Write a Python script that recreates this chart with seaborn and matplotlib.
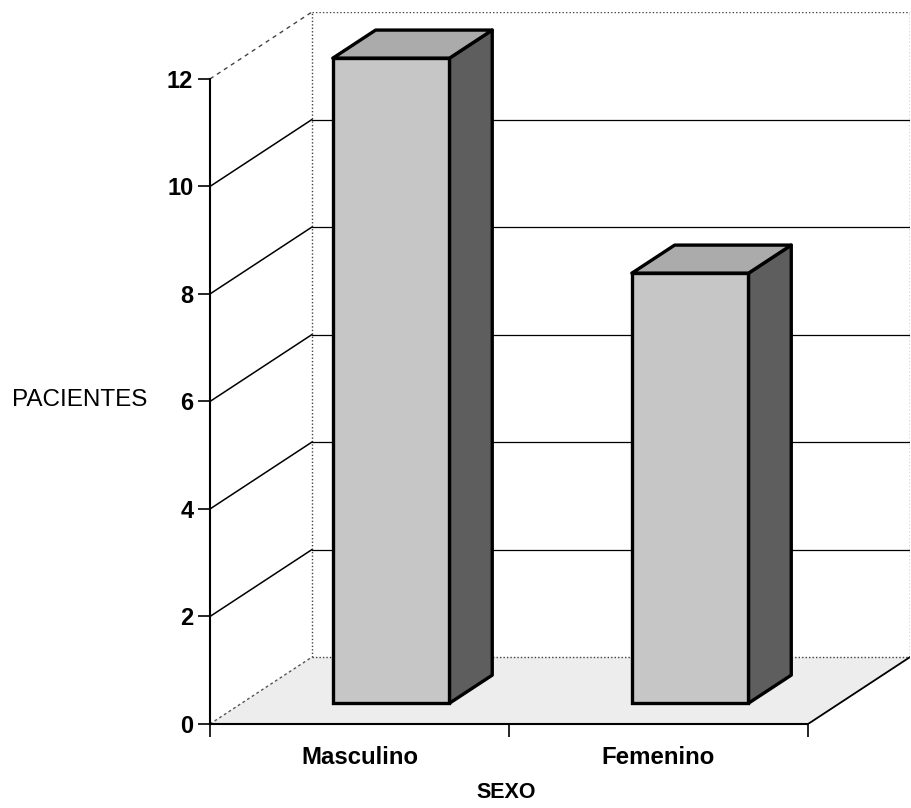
import matplotlib
matplotlib.use("Agg")
import matplotlib.pyplot as plt
from matplotlib.patches import Polygon
import seaborn as sns
import pandas as pd

# Datos
categorias = ["Masculino", "Femenino"]
pacientes = [12, 8]
marcas_y = [0, 2, 4, 6, 8, 10, 12]

sns.set_theme(style="ticks")
plt.rcParams["font.family"] = ["Liberation Sans", "DejaVu Sans"]
plt.rcParams["text.color"] = "black"
plt.rcParams["axes.labelcolor"] = "black"
plt.rcParams["xtick.color"] = "black"
plt.rcParams["ytick.color"] = "black"

# Pseudo-3D geometry (in data units)
DX, DY = 0.341, 1.245          # full depth offset of the box
F0, F1 = 0.31, 0.73            # front / back depth fraction of the bars
ANCHO = 0.39

C_FRENTE = "#c6c6c6"
C_TAPA = "#ababab"
C_LADO = "#5e5e5e"
C_PISO = "#ededed"

fig = plt.figure(figsize=(9.12, 8.08), dpi=100)
ax = fig.add_axes([210 / 912, (808 - 724) / 808, 700 / 912, 712 / 808])

df = pd.DataFrame({"SEXO": categorias, "PACIENTES": pacientes})
sns.barplot(data=df, x="SEXO", y="PACIENTES", ax=ax, color=C_FRENTE,
            saturation=1, width=ANCHO, edgecolor="black", linewidth=2.4,
            zorder=4)

x_min, x_max = -0.5, len(categorias) - 0.5
y_top = marcas_y[-1]

# floor
piso = Polygon([(x_min, 0), (x_max, 0), (x_max + DX, DY), (x_min + DX, DY)],
               closed=True, facecolor=C_PISO, edgecolor="none", zorder=1)
ax.add_patch(piso)
ax.plot([x_max, x_max + DX], [0, DY], color="black", lw=1.3, zorder=2)
ax.plot([x_min, x_min + DX], [0, DY], color="#555555", lw=1.0,
        ls=(0, (2, 2)), zorder=2)

# back wall frame (dotted)
bx0, bx1 = x_min + DX, x_max + DX
punteado = dict(color="#444444", lw=1.0, ls=(0, (1, 1.5)), zorder=1.5)
ax.plot([bx0, bx0], [DY, y_top + DY], **punteado)
ax.plot([bx1, bx1], [DY, y_top + DY], **punteado)
ax.plot([bx0, bx1], [DY, DY], **punteado)
ax.plot([bx0, bx1], [y_top + DY, y_top + DY], **punteado)
ax.plot([x_min, bx0], [y_top, y_top + DY], color="#444444", lw=1.0,
        ls=(0, (3, 3)), zorder=1.5)

# gridlines on the side and back walls
for t in marcas_y[1:-1]:
    ax.plot([x_min, bx0], [t, t + DY], color="black", lw=1.1, zorder=1.5)
    ax.plot([bx0, bx1], [t + DY, t + DY], color="black", lw=0.9, zorder=1.5)

# move the front faces into depth and add top / side faces
ox, oy = F0 * DX, F0 * DY
sx, sy = (F1 - F0) * DX, (F1 - F0) * DY
for p in list(ax.patches):
    if p is piso:
        continue
    p.set_x(p.get_x() + ox)
    p.set_y(p.get_y() + oy)
    x0 = p.get_x()
    x1 = x0 + p.get_width()
    y0 = p.get_y()
    y1 = y0 + p.get_height()
    lado = Polygon([(x1, y0), (x1 + sx, y0 + sy), (x1 + sx, y1 + sy), (x1, y1)],
                   closed=True, facecolor=C_LADO, edgecolor="black",
                   lw=2.4, joinstyle="round", zorder=3)
    tapa = Polygon([(x0, y1), (x1, y1), (x1 + sx, y1 + sy), (x0 + sx, y1 + sy)],
                   closed=True, facecolor=C_TAPA, edgecolor="black",
                   lw=2.4, joinstyle="round", zorder=3)
    ax.add_patch(lado)
    ax.add_patch(tapa)

ax.set_xlim(x_min, x_max + DX)
ax.set_ylim(0, y_top + DY)

for s in ["top", "right"]:
    ax.spines[s].set_visible(False)
ax.spines["left"].set_bounds(0, y_top)
ax.spines["left"].set_linewidth(1.5)
ax.spines["left"].set_color("black")
ax.spines["bottom"].set_bounds(x_min, x_max)
ax.spines["bottom"].set_linewidth(1.5)
ax.spines["bottom"].set_color("black")
ax.spines["bottom"].set_linestyle((0, (3, 1)))
ax.spines["left"].set_zorder(5)

ax.set_yticks(marcas_y)
ax.set_yticklabels([str(v) for v in marcas_y], fontsize=17, fontweight="bold")
ax.tick_params(axis="y", direction="out", length=9, width=1.2, pad=3,
               color="black")

ax.set_xticks(range(len(categorias)))
ax.set_xticklabels(categorias, fontsize=17.3, fontweight="bold")
ax.set_xticks([x_min, 0.5, x_max], minor=True)
ax.tick_params(axis="x", which="major", length=0, pad=16)
ax.tick_params(axis="x", which="minor", direction="out", length=9, width=1.2,
               color="black")

ax.set_ylabel("PACIENTES", fontsize=17.5, rotation=0, ha="center", va="center")
ax.yaxis.set_label_coords((80 - 210) / 700, (724 - 400) / 712)
ax.set_xlabel("SEXO", fontsize=15.5, fontweight="bold", va="center")
ax.xaxis.set_label_coords((506 - 210) / 700, (724 - 792) / 712)

fig.savefig("out.png", dpi=100, facecolor="white")
